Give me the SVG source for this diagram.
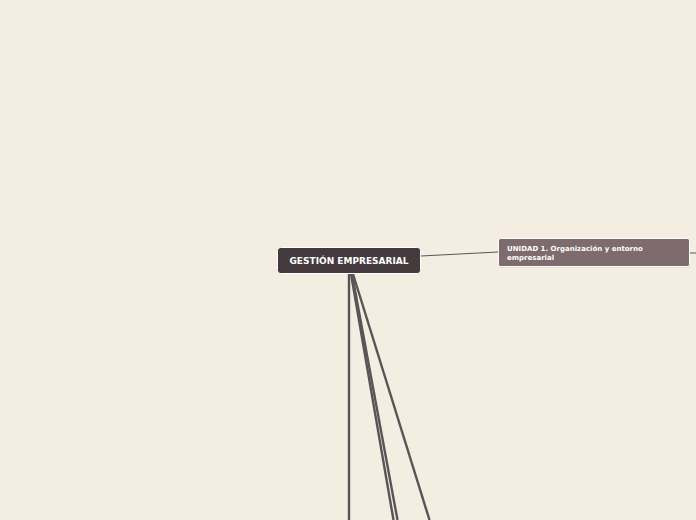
<svg xmlns="http://www.w3.org/2000/svg" width="696" height="520" viewBox="0 0 696 520">
<style>
.thick{stroke:#595557;stroke-width:2.4;fill:none;stroke-linecap:butt}
.thin{stroke:#595557;stroke-width:1;fill:none}
.t{font-family:Verdana,"DejaVu Sans",sans-serif;font-weight:bold;fill:#ffffff}
</style>
<rect width="696" height="520" fill="#f3ede2"/>
<g id="connectors">
<line class="thick" x1="349" y1="274" x2="349" y2="520"/>
<line class="thick" x1="351" y1="274" x2="393.5" y2="520"/>
<line class="thick" x1="352" y1="274" x2="397.5" y2="520"/>
<line class="thick" x1="353" y1="274" x2="429.5" y2="520"/>
<line class="thin" x1="421" y1="256" x2="498" y2="252"/>
<line class="thin" x1="690" y1="253" x2="696" y2="253"/>
</g>
<g id="node-root">
<rect x="277.5" y="247.5" width="143" height="26" rx="3" fill="#453b3e" stroke="#ffffff" stroke-width="1"/>
<text class="t" x="349" y="264" font-size="9" text-anchor="middle">GESTIÓN EMPRESARIAL</text>
</g>
<g id="node-unidad1">
<rect x="499" y="239.5" width="191" height="28" rx="2" fill="#c9c0b6" opacity="0.6"/>
<rect x="498.5" y="238.5" width="191" height="28" rx="2" fill="#7d6b6e" stroke="#ffffff" stroke-width="1"/>
<text class="t" x="507" y="250.5" font-size="7">UNIDAD 1. Organización y entorno</text>
<text class="t" x="507" y="259.5" font-size="7">empresarial</text>
</g>
</svg>
